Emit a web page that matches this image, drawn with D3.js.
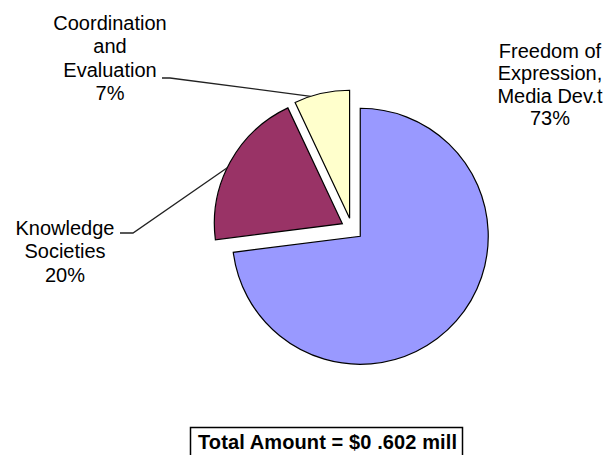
<!DOCTYPE html>
<html>
<head>
<meta charset="utf-8">
<script src="https://cdn.jsdelivr.net/npm/d3@7"></script>
<style>
  html, body { margin: 0; padding: 0; background: #fff; }
  svg { display: block; }
</style>
</head>
<body>
<svg id="chart" width="610" height="455"></svg>
<script>
// ---- data ----
const categories = ["Freedom of Expression, Media Dev.t", "Knowledge Societies", "Coordination and Evaluation"];
const labelLines = [["Freedom of", "Expression,", "Media Dev.t"], ["Knowledge", "Societies"], ["Coordination", "and", "Evaluation"]];
const values = [73, 20, 7];
const percentLabels = ["73%", "20%", "7%"];
const colors = ["#9999FF", "#993366", "#FFFFCC"];
const totalText = "Total Amount = $0 .602 mill";

// ---- layout ----
const svg = d3.select("#chart");
const cx = 352, cy = 229, radius = 128, explode = 11;
const font = "'Liberation Sans', Arial, sans-serif";

const pie = d3.pie().sort(null).value(d => d)(values);
const arc = d3.arc().innerRadius(0).outerRadius(radius);

const g = svg.append("g").attr("transform", `translate(${cx},${cy})`);
g.selectAll("path.slice")
  .data(pie)
  .join("path")
  .attr("class", "slice")
  .attr("transform", d => {
    const a = (d.startAngle + d.endAngle) / 2;
    return `translate(${Math.sin(a) * explode},${-Math.cos(a) * explode})`;
  })
  .attr("d", arc)
  .attr("fill", (d, i) => colors[i])
  .attr("stroke", "#000")
  .attr("stroke-width", 1.2)
  .attr("stroke-linejoin", "miter");

// helper: point on outer arc of slice i at a given angle (radians clockwise from top)
function arcPoint(i, ang) {
  const d = pie[i];
  const m = (d.startAngle + d.endAngle) / 2;
  const ox = Math.sin(m) * explode, oy = -Math.cos(m) * explode;
  return [cx + ox + Math.sin(ang) * radius, cy + oy - Math.cos(ang) * radius];
}

// leader lines
const line = d3.line();
const kEnd = arcPoint(1, pie[1].startAngle + (pie[1].endAngle - pie[1].startAngle) * 0.46);
const cEnd = arcPoint(2, pie[2].startAngle + (pie[2].endAngle - pie[2].startAngle) * 0.30);
svg.append("path")
  .attr("d", line([[120, 233], [133, 233], kEnd]))
  .attr("fill", "none").attr("stroke", "#222").attr("stroke-width", 1.3);
svg.append("path")
  .attr("d", line([[162, 78], [170, 78], cEnd]))
  .attr("fill", "none").attr("stroke", "#222").attr("stroke-width", 1.3);

// labels
const labelPos = [
  {x: 550, y: 58, dy: 22.4},
  {x: 65, y: 235, dy: 23.3},
  {x: 110, y: 30, dy: 23.3}
];
labelLines.forEach((lines, i) => {
  const t = svg.append("text")
    .attr("x", labelPos[i].x)
    .attr("y", labelPos[i].y)
    .attr("text-anchor", "middle")
    .attr("font-family", font)
    .attr("font-size", 20)
    .attr("fill", "#000");
  lines.concat([percentLabels[i]]).forEach((s, j) => {
    t.append("tspan")
      .attr("x", labelPos[i].x)
      .attr("y", labelPos[i].y + j * labelPos[i].dy)
      .text(s);
  });
});

// total box
svg.append("rect")
  .attr("x", 190.5).attr("y", 427.5)
  .attr("width", 272).attr("height", 40)
  .attr("fill", "#fff").attr("stroke", "#000").attr("stroke-width", 1.5);
svg.append("text")
  .attr("x", 198).attr("y", 449)
  .attr("font-family", font)
  .attr("font-size", 20)
  .attr("font-weight", "bold")
  .attr("textLength", 259)
  .attr("lengthAdjust", "spacing")
  .attr("fill", "#000")
  .text(totalText);
</script>
</body>
</html>
